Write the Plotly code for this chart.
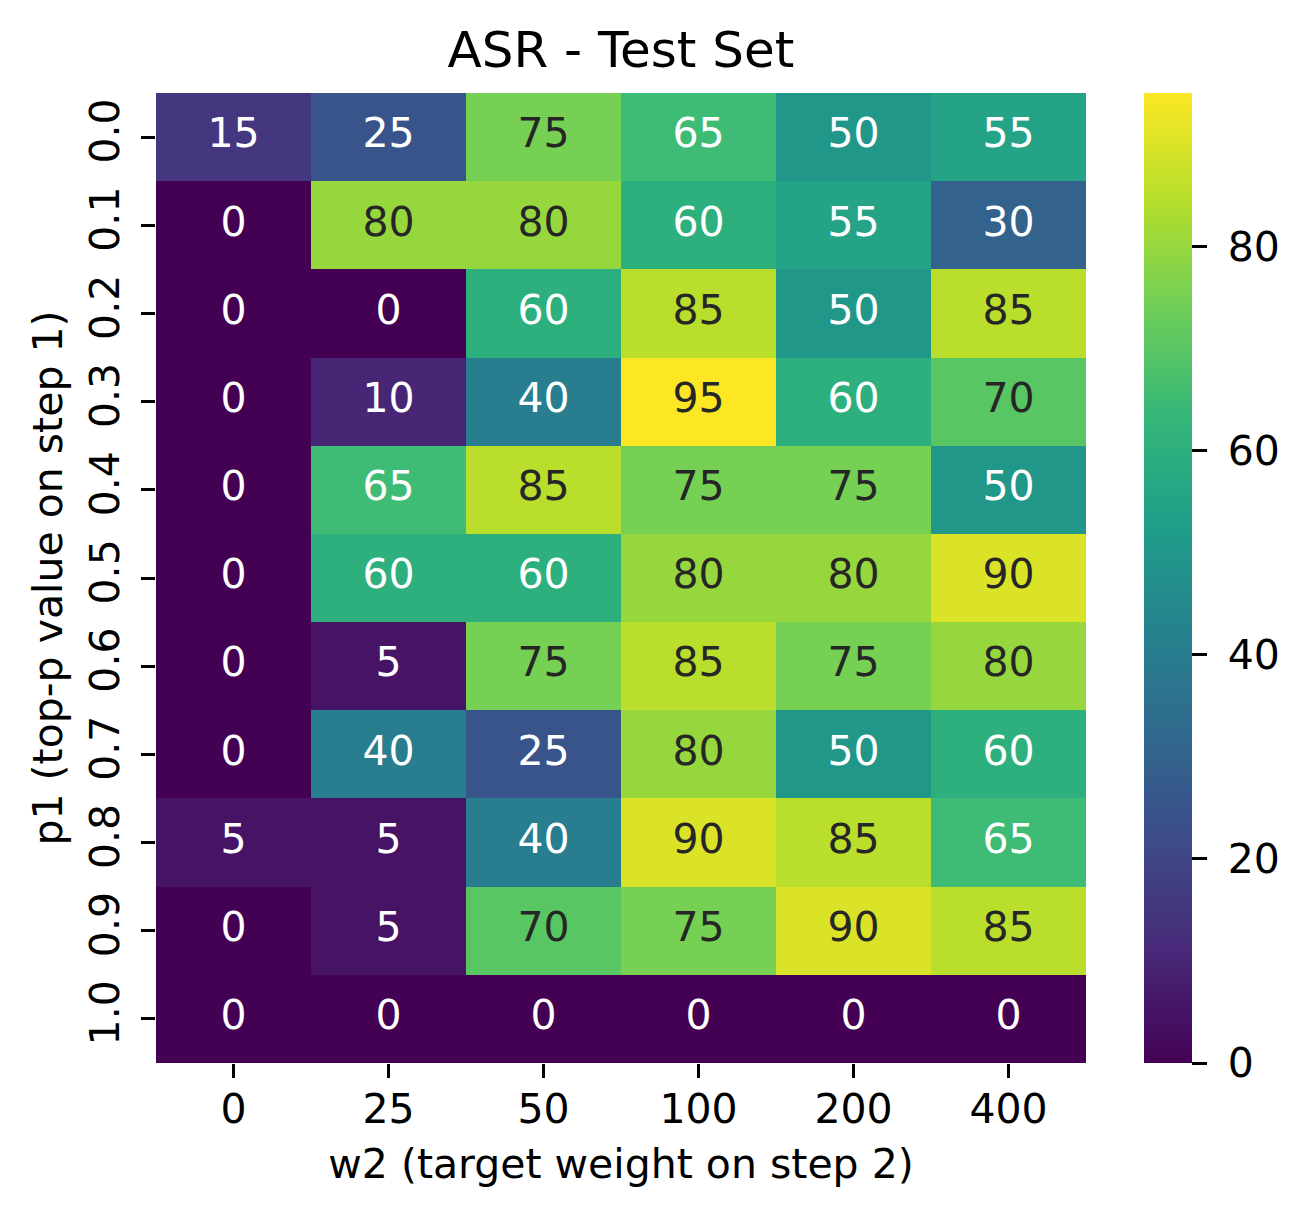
import plotly.graph_objects as go
from plotly.colors import sample_colorscale, unlabel_rgb

w2_labels = ["0", "25", "50", "100", "200", "400"]
p1_labels = ["0.0", "0.1", "0.2", "0.3", "0.4", "0.5", "0.6", "0.7", "0.8", "0.9", "1.0"]
asr = [
    [15, 25, 75, 65, 50, 55],
    [0, 80, 80, 60, 55, 30],
    [0, 0, 60, 85, 50, 85],
    [0, 10, 40, 95, 60, 70],
    [0, 65, 85, 75, 75, 50],
    [0, 60, 60, 80, 80, 90],
    [0, 5, 75, 85, 75, 80],
    [0, 40, 25, 80, 50, 60],
    [5, 5, 40, 90, 85, 65],
    [0, 5, 70, 75, 90, 85],
    [0, 0, 0, 0, 0, 0],
]
cbar_ticks = [0, 20, 40, 60, 80]

FONT = "DejaVu Sans"
zmin, zmax = 0, max(max(r) for r in asr)

def lum(rgbstr):
    r, g, b = unlabel_rgb(rgbstr)
    out = []
    for c in (r, g, b):
        c = c / 255.0
        out.append(c / 12.92 if c <= 0.03928 else ((c + 0.055) / 1.055) ** 2.4)
    return 0.2126 * out[0] + 0.7152 * out[1] + 0.0722 * out[2]

xs, ys, txt, cols = [], [], [], []
for i, row in enumerate(asr):
    for j, v in enumerate(row):
        c = sample_colorscale("Viridis", [(v - zmin) / (zmax - zmin)])[0]
        xs.append(j)
        ys.append(i)
        txt.append(str(v))
        cols.append("#262626" if lum(c) > 0.408 else "white")

W, H = 1296, 1211
L, R, T, B = 148, 218, 85, 156

fig = go.Figure()
fig.add_trace(go.Heatmap(
    z=asr, x=list(range(len(w2_labels))), y=list(range(len(p1_labels))),
    colorscale="Viridis", zmin=zmin, zmax=zmax, xgap=0, ygap=0,
    colorbar=dict(
        x=1.0624, xanchor="left", xpad=0, y=0.5, yanchor="middle", ypad=0,
        len=1, lenmode="fraction", thickness=48, outlinewidth=0,
        tickvals=cbar_ticks, ticktext=["\u00a0" + str(t) for t in cbar_ticks],
        ticks="outside", ticklen=15, tickwidth=3,
        tickcolor="black", tickfont=dict(family=FONT, size=41, color="black"),
    ),
    hoverinfo="skip",
))
fig.add_trace(go.Scatter(
    x=xs, y=ys, text=txt, mode="text",
    textfont=dict(family=FONT, size=41, color=cols),
    hoverinfo="skip", showlegend=False,
))

fig.update_layout(
    width=W, height=H, autosize=False,
    margin=dict(l=L, r=R, t=T, b=B, pad=0),
    paper_bgcolor="white", plot_bgcolor="white",
    font=dict(family=FONT, color="black"),
    title=dict(text="ASR - Test Set", x=(L + (W - R)) / 2 / W, xanchor="center",
               yref="container", y=1 - 59 / H, yanchor="bottom",
               font=dict(family=FONT, size=50, color="black")),
    showlegend=False,
)
fig.update_xaxes(
    tickvals=list(range(len(w2_labels))), ticktext=w2_labels,
    range=[-0.5, len(w2_labels) - 0.5], showgrid=False, zeroline=False,
    ticks="outside", ticklen=14, tickwidth=3, tickcolor="black",
    tickfont=dict(family=FONT, size=41, color="black"), ticklabelstandoff=-4,
    title=dict(text="w2 (target weight on step 2)", font=dict(family=FONT, size=41, color="black"), standoff=17),
    showline=False,
)
fig.update_yaxes(
    tickvals=list(range(len(p1_labels))), ticktext=p1_labels,
    range=[len(p1_labels) - 0.5, -0.5], showgrid=False, zeroline=False,
    ticks="outside", ticklen=14, tickwidth=3, tickcolor="black", tickangle=-90,
    tickfont=dict(family=FONT, size=41, color="black"), ticklabelstandoff=6,
    title=dict(text="p1 (top-p value on step 1)", font=dict(family=FONT, size=41, color="black"), standoff=5),
    showline=False,
)

fig.write_html("out.html")
